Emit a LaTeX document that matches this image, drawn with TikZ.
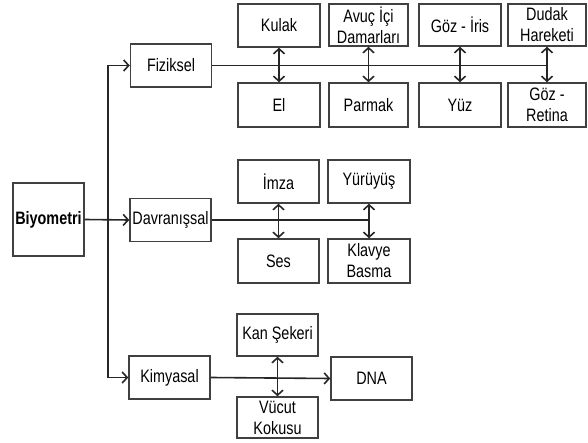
\documentclass[tikz,border=0pt]{standalone}
\usepackage{fontspec}
\setmainfont[FakeStretch=0.8]{Liberation Sans}
\usetikzlibrary{arrows.meta}

\tikzset{
  kutu/.style={draw=black!75,line width=1.5pt,inner sep=0pt,align=center,
    minimum width=81pt,minimum height=43pt,
    font=\fontsize{18}{21}\selectfont},
  bag/.style={line width=1.6pt,draw=black!85},
}

\begin{document}
\begin{tikzpicture}[x=1pt,y=-1pt,>={Straight Barb[length=5pt,width=11pt]}]
\useasboundingbox (0,0) rectangle (588,443);
% ================= root and groups =================
\node[kutu,minimum width=71pt,minimum height=73pt,font=\fontsize{18}{21}\selectfont\bfseries] (bio) at (48.5,219.5) {Biyometri};
\node[kutu] (fiz) at (171,65.5) {Fiziksel};
\node[kutu] (dav) at (170.5,220) {Davranışsal};
\node[kutu] (kim) at (169.5,377.5) {Kimyasal};
% split line left of the groups
\coordinate (ayrim) at (108,219.5);
\draw[bag,->] (bio.east) -- (dav.west);
\draw[bag] (ayrim |- fiz.west) -- (ayrim |- kim.west);
\draw[bag,->] (ayrim |- fiz.west) -- (fiz.west);
\draw[bag,->] (ayrim |- kim.west) -- (kim.west);
% ================= Fiziksel =================
\node[kutu,minimum width=82pt] (kulak) at (279,25.5) {Kulak};
\node[kutu,minimum width=79pt,minimum height=42pt] (avuc) at (368.5,25) {Avuç İçi\\Damarları};
\node[kutu,minimum width=82pt,minimum height=42pt] (iris) at (460,25) {Göz - İris};
\node[kutu,minimum width=78pt,minimum height=42pt] (dudak) at (547,25) {Dudak\\Hareketi};
\node[kutu,minimum width=82pt,minimum height=44pt] (el) at (279,105) {El};
\node[kutu,minimum width=79pt,minimum height=44pt] (parmak) at (368.5,105) {Parmak};
\node[kutu,minimum width=82pt,minimum height=44pt] (yuz) at (460,105) {Yüz};
\node[kutu,minimum width=78pt,minimum height=44pt] (retina) at (547,105) {Göz -\\Retina};
\draw[bag] (fiz.east) -- (dudak.south |- fiz.east);
\draw[bag,<->] (kulak.south) -- (el.north);
\draw[bag,<->] (avuc.south) -- (parmak.north);
\draw[bag,<->] (iris.south) -- (yuz.north);
\draw[bag,<->] (dudak.south) -- (retina.north);
% ================= Davranissal =================
\node[kutu] (imza) at (278.5,181.5) {İmza};
\node[kutu,minimum width=82pt] (yuruyus) at (369,181.5) {Yürüyüş};
\node[kutu,minimum height=44pt] (ses) at (278.5,261) {Ses};
\node[kutu,minimum width=82pt,minimum height=44pt] (klavye) at (369,261) {Klavye\\Basma};
\draw[bag] (dav.east) -- (yuruyus.south |- dav.east);
\draw[bag,<->] (imza.south) -- (ses.north);
\draw[bag,<->] (yuruyus.south) -- (klavye.north);
% ================= Kimyasal =================
\node[kutu,minimum height=42pt] (kan) at (277.5,335) {Kan Şekeri};
\node[kutu,minimum height=41pt] (vucut) at (277.5,417.5) {Vücut\\Kokusu};
\node[kutu] (dna) at (371.5,378.5) {DNA};
\draw[bag,->] (kim.east) -- (dna.west);
\draw[bag,<->] (kan.south) -- (vucut.north);
\end{tikzpicture}
\end{document}
